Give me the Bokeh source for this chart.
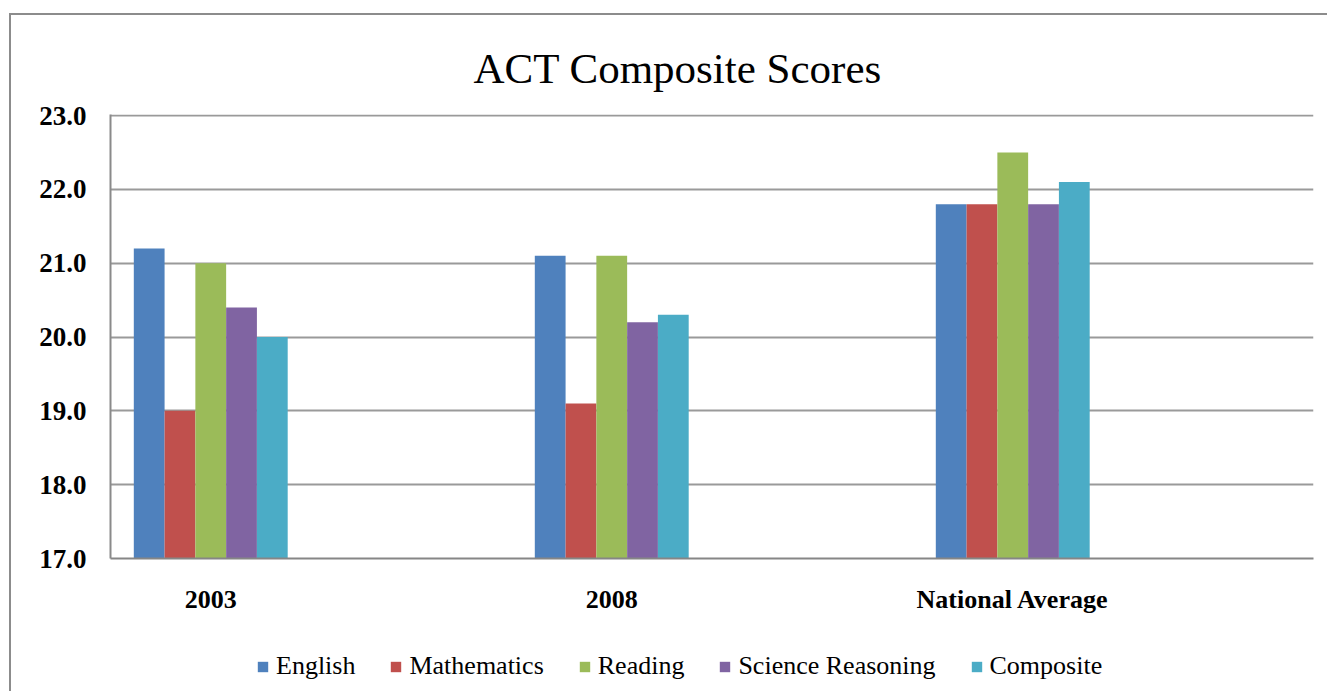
from bokeh.plotting import figure
from bokeh.layouts import column
from bokeh.models import (Range1d, FixedTicker, NumeralTickFormatter, Legend, LegendItem,
                          Title, ColumnDataSource)
from bokeh.embed import file_html
from bokeh.resources import INLINE

# ---- data ----
categories = ["2003", "2008", "National Average"]
series = ["English", "Mathematics", "Reading", "Science Reasoning", "Composite"]
english = [21.2, 21.1, 21.8]
mathematics = [19.0, 19.1, 21.8]
reading = [21.0, 21.1, 22.5]
science = [20.4, 20.2, 21.8]
composite = [20.0, 20.3, 22.1]
y_ticks = [17, 18, 19, 20, 21, 22, 23]
values = [english, mathematics, reading, science, composite]
colors = ["#4F81BD", "#C0504D", "#9BBB59", "#8064A2", "#4BACC6"]

FONT = "Liberation Serif"
W = 1318
H_MAIN, H_LEG = 625, 53

p = figure(width=W, height=H_MAIN, output_backend="svg", toolbar_location=None,
           x_range=Range1d(0, 2 * len(categories)), y_range=Range1d(17, 23.014),
           min_border_left=99, min_border_right=14, min_border_top=99,
           min_border_bottom=82)
p.background_fill_color = "white"
p.border_fill_color = "white"
p.outline_line_color = None

# category slots: each group sits in every other slot (gaps between)
slot_centers = [2 * i + 0.5 for i in range(len(categories))]
bar_w = 0.1535
for k, (name, vals, col) in enumerate(zip(series, values, colors)):
    xs = [c + (k - 2) * bar_w for c in slot_centers]
    src = ColumnDataSource(dict(x=xs, top=vals))
    p.vbar(x="x", top="top", bottom=17, width=bar_w, source=src,
           fill_color=col, line_color=None)

# axes
p.xaxis.ticker = FixedTicker(ticks=slot_centers, minor_ticks=[])
p.xaxis.major_label_overrides = {c: lab for c, lab in zip(slot_centers, categories)}
p.xaxis.major_label_text_font = FONT
p.xaxis.major_label_text_font_style = "bold"
p.xaxis.major_label_text_font_size = "26px"
p.xaxis.major_label_text_color = "black"
p.xaxis.major_tick_line_color = None
p.xaxis.minor_tick_line_color = None
p.xaxis.major_label_standoff = 20
p.xaxis.axis_line_color = "#868686"
p.xaxis.axis_line_width = 2

p.yaxis.ticker = FixedTicker(ticks=y_ticks, minor_ticks=[])
p.yaxis.formatter = NumeralTickFormatter(format="0.0")
p.yaxis.major_label_text_font = FONT
p.yaxis.major_label_text_font_style = "bold"
p.yaxis.major_label_text_font_size = "27px"
p.yaxis.major_label_text_color = "black"
p.yaxis.major_tick_line_color = None
p.yaxis.minor_tick_line_color = None
p.yaxis.major_label_standoff = 18
p.yaxis.axis_line_color = "#8a8a8a"
p.yaxis.axis_line_width = 2

p.xgrid.grid_line_color = None
p.ygrid.grid_line_color = "#9a9a9a"
p.ygrid.grid_line_width = 2

# title
p.add_layout(Title(text="ACT Composite Scores", text_font=FONT, text_font_size="43px",
                   text_font_style="normal", text_color="black", align="left",
                   offset=363, standoff=45), "above")

# legend strip (separate canvas below the chart)
lg = figure(width=W, height=H_LEG, output_backend="svg", toolbar_location=None,
            x_axis_type=None, y_axis_type=None, x_range=Range1d(0, 1), y_range=Range1d(0, 1),
            min_border=0, min_border_left=0, min_border_right=0,
            min_border_top=0, min_border_bottom=0)
lg.outline_line_color = None
lg.background_fill_color = "white"
lg.border_fill_color = "white"
lg.grid.visible = False
items = []
for name, col in zip(series, colors):
    # swatch-only renderer, kept outside the visible range of the legend strip
    r = lg.vbar(x=[-5], top=[-5], bottom=-6, width=0.1, fill_color=col, line_color=None)
    items.append(LegendItem(label=name, renderers=[r]))
legend = Legend(items=items, orientation="horizontal", location=(146, 12),
                glyph_width=13, glyph_height=13, label_standoff=7, spacing=34,
                padding=0, margin=0, border_line_color=None, background_fill_alpha=0,
                label_text_font=FONT, label_text_font_size="26px", label_text_color="black")
lg.add_layout(legend, "center")

page = column(p, lg, width=W, height=H_MAIN + H_LEG, spacing=0,
              styles={"margin-left": "9px", "margin-top": "13px",
                      "border-left": "2px solid #8c8c8c", "border-top": "2px solid #8c8c8c"})

open("out.html", "w").write(file_html(page, INLINE))
